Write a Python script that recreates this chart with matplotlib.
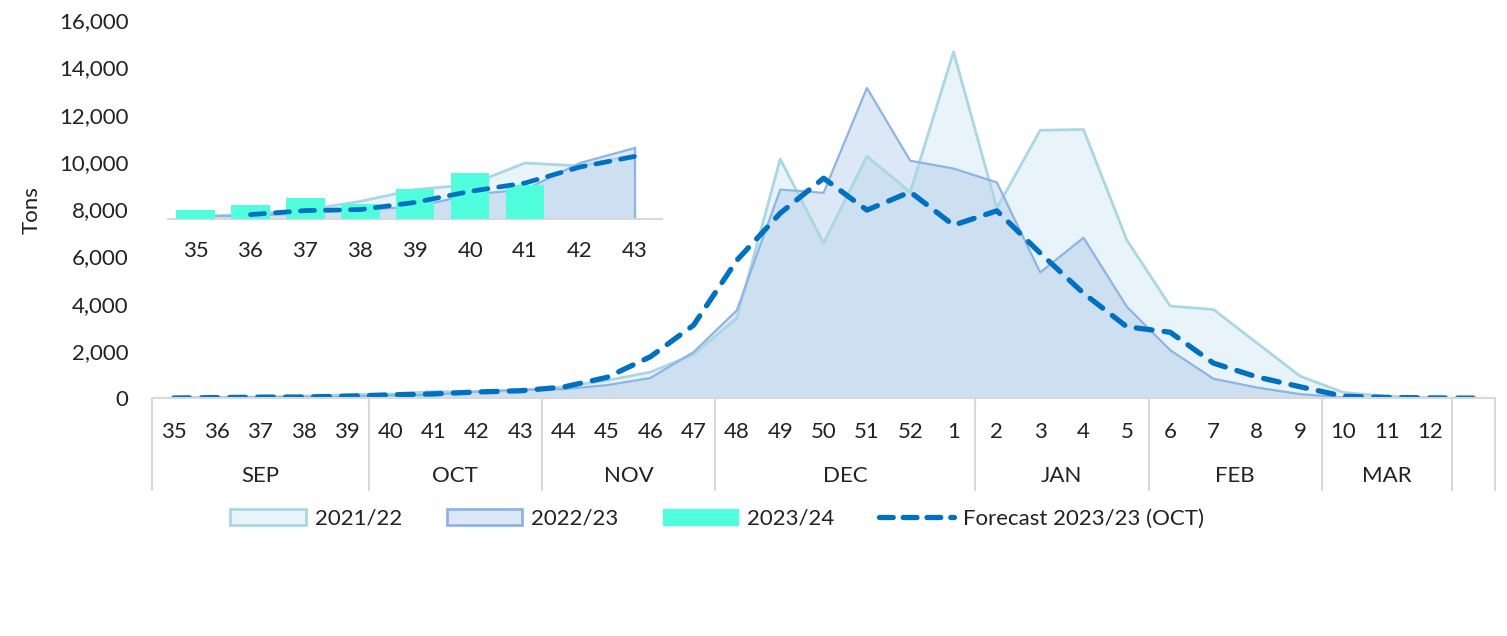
import numpy as np
import matplotlib.pyplot as plt
from matplotlib.patches import Patch
from matplotlib.lines import Line2D
import matplotlib.transforms as mtransforms

plt.rcParams['font.family'] = ['Lato', 'DejaVu Sans']

# week labels (last slot is an empty category)
weeks = ['35', '36', '37', '38', '39', '40', '41', '42', '43', '44', '45', '46', '47',
         '48', '49', '50', '51', '52', '1', '2', '3', '4', '5', '6', '7', '8', '9',
         '10', '11', '12', '']
months = ['SEP', 'OCT', 'NOV', 'DEC', 'JAN', 'FEB', 'MAR', '']
month_sizes = [5, 4, 4, 6, 4, 4, 3, 1]

nan = np.nan
y_2122 = [10, 25, 45, 88, 147, 172, 280, 265, 320, 480, 750, 1100, 1850, 3390, 10120,
          6560, 10240, 8720, 14660, 8040, 11340, 11370, 6690, 3900, 3750, 2340, 930,
          240, 80, 20, nan]
y_2223 = [15, 15, 30, 47, 60, 122, 147, 280, 355, 380, 550, 850, 1950, 3720, 8830,
          8690, 13130, 10050, 9720, 9130, 5320, 6790, 3870, 2030, 820, 450, 170,
          30, 0, 0, nan]
y_2324 = [45, 68, 105, 77, 150, 230, 170] + [nan] * 24
forecast = [5, 22, 42, 47, 83, 138, 180, 260, 313, 470, 880, 1750, 3090, 5840, 7830,
            9310, 7960, 8730, 7320, 7930, 6140, 4440, 3020, 2790, 1480, 900, 480,
            80, 30, 10, 0]

c21_face = (0.65, 0.84, 0.91, 0.25)
c21_edge = '#aad7e3'
c22_face = (0.56, 0.71, 0.89, 0.30)
c22_edge = '#8fb4e3'
c23 = '#50fddc'
c_fc = '#0070c0'
dash = (0, (3.0, 2.3))
txt = '#222222'
fs = 16

x = np.arange(len(weeks))
a21 = np.array(y_2122, dtype=float)
a22 = np.array(y_2223, dtype=float)
a23 = np.array(y_2324, dtype=float)
fc = np.array(forecast, dtype=float)

fig = plt.figure(figsize=(15.07, 6.36), dpi=100)
ax = fig.add_axes([0.1009, 0.374, 0.8912, 0.5943])

m = ~np.isnan(a21)
ax.fill_between(x[m], a21[m], color=c21_face, lw=0)
ax.plot(x[m], a21[m], color=c21_edge, lw=2)
m = ~np.isnan(a22)
ax.fill_between(x[m], a22[m], color=c22_face, lw=0)
ax.plot(x[m], a22[m], color=c22_edge, lw=1.6)
m = ~np.isnan(a23)
ax.fill_between(x[m], a23[m], color=c23, lw=0)
ax.plot(x, fc, color=c_fc, lw=3.8, linestyle=dash, dash_capstyle='round')

ax.set_xlim(-0.5, len(weeks) - 0.5)
ax.set_ylim(0, 16000)
ax.set_yticks(np.arange(0, 16001, 2000))
ax.set_yticklabels([f'{v:,}' for v in range(0, 16001, 2000)])
ax.set_xticks(x)
ax.set_xticklabels(weeks)
ax.tick_params(axis='both', length=0, labelsize=fs, colors=txt)
ax.tick_params(axis='y', pad=17)
ax.tick_params(axis='x', pad=17)
for s in ['top', 'right', 'left']:
    ax.spines[s].set_visible(False)
ax.spines['bottom'].set_color('#d9d9d9')
ax.spines['bottom'].set_linewidth(1.5)

# month group separators and labels
trans = mtransforms.blended_transform_factory(ax.transData, ax.transAxes)
edges = np.concatenate([[0], np.cumsum(month_sizes)]) - 0.5
for e in edges:
    ax.plot([e, e], [0, -0.243], transform=trans, color='#d9d9d9', lw=1.5, clip_on=False)
for i, name in enumerate(months):
    mid = (edges[i] + edges[i + 1]) / 2
    ax.text(mid, -0.206, name, transform=trans, ha='center', va='center',
            fontsize=fs, color=txt)

fig.text(0.021, 0.67, 'Tons', rotation=90, ha='center', va='center', fontsize=fs, color=txt)

# inset zoom on the first weeks
n_in = 9
ins = fig.add_axes([0.1115, 0.6557, 0.3281, 0.1242])
ins.patch.set_alpha(0)
xi = x[:n_in]
ins.fill_between(xi, a21[:n_in], color=c21_face, lw=0)
ins.plot(xi, a21[:n_in], color=c21_edge, lw=2)
ins.fill_between(xi, a22[:n_in], color=c22_face, lw=0)
ins.plot(xi, a22[:n_in], color=c22_edge, lw=1.6)
ins.plot([xi[-1], xi[-1]], [0, a22[n_in - 1]], color=c22_edge, lw=1.6)
ins.bar(xi, a23[:n_in], width=0.7, color=c23, zorder=3)
ins.plot(xi[1:], fc[1:n_in], color=c_fc, lw=3.4, linestyle=dash,
         dash_capstyle='round', zorder=4)
ins.set_xlim(-0.5, n_in - 0.5)
ins.set_ylim(0, 395)
ins.set_xticks(xi)
ins.set_xticklabels(weeks[:n_in])
ins.set_yticks([])
ins.tick_params(axis='x', length=0, labelsize=fs, colors=txt, pad=16)
for s in ['top', 'right', 'left']:
    ins.spines[s].set_visible(False)
ins.spines['bottom'].set_color('#d9d9d9')
ins.spines['bottom'].set_linewidth(1.5)

handles = [
    Patch(facecolor=c21_face, edgecolor=c21_edge, lw=2, label='2021/22'),
    Patch(facecolor=c22_face, edgecolor=c22_edge, lw=2, label='2022/23'),
    Patch(facecolor=c23, edgecolor=c23, label='2023/24'),
    Line2D([0], [0], color=c_fc, lw=3.8, linestyle=(0, (2.6, 1.9)),
           dash_capstyle='round', label='Forecast 2023/23 (OCT)'),
]
leg = fig.legend(handles=handles, loc='center', bbox_to_anchor=(0.476, 0.184), ncol=4,
                 frameon=False, fontsize=fs, handlelength=3.4, handleheight=0.75,
                 columnspacing=2.0, handletextpad=0.4)
for t in leg.get_texts():
    t.set_color(txt)

fig.savefig('out.png', dpi=100)
